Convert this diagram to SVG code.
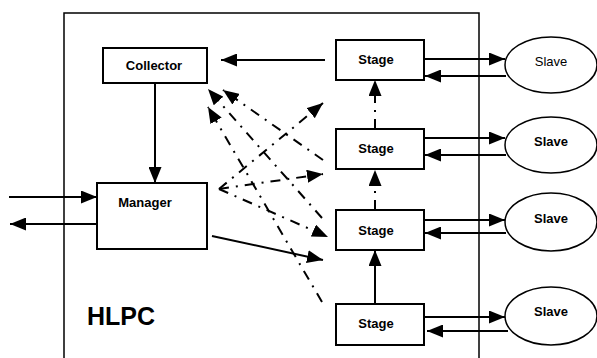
<svg xmlns="http://www.w3.org/2000/svg" width="597" height="358" viewBox="0 0 597 358">
<style>
.box{fill:#fff;stroke:#000;stroke-width:2}
.ell{fill:#fff;stroke:#000;stroke-width:1.5}
.t{font-family:"Liberation Sans",Arial,sans-serif;font-size:13px;font-weight:bold;text-anchor:middle;fill:#000}
.tn{font-weight:normal}
.s{stroke:#000;stroke-width:2;fill:none;marker-end:url(#ah)}
.d{stroke:#000;stroke-width:2;fill:none;stroke-dasharray:10 7 2 7;marker-end:url(#ah)}
</style>
<defs>
<marker id="ah" markerUnits="userSpaceOnUse" markerWidth="16" markerHeight="13" refX="16" refY="6.5" orient="auto">
<path d="M0,0 L16,6.5 L0,13 z" fill="#000"/>
</marker>
</defs>
<rect x="64" y="13" width="415" height="360" fill="none" stroke="#000" stroke-width="1.5"/>
<g id="collector"><rect class="box" x="103" y="48" width="104" height="35"/><text class="t" x="154" y="70">Collector</text></g>
<g id="manager"><rect class="box" x="97" y="183" width="110" height="66"/><text class="t" x="145" y="207">Manager</text></g>
<g id="stage1"><rect class="box" x="336" y="40" width="88" height="40"/><text class="t" x="376" y="64">Stage</text></g>
<g id="stage2"><rect class="box" x="336" y="129" width="88" height="40"/><text class="t" x="376" y="153">Stage</text></g>
<g id="stage3"><rect class="box" x="336" y="210" width="88" height="40"/><text class="t" x="376" y="235">Stage</text></g>
<g id="stage4"><rect class="box" x="336" y="304" width="88" height="41"/><text class="t" x="376" y="328">Stage</text></g>
<g id="slave1"><ellipse class="ell" cx="551" cy="65" rx="46" ry="28"/><text class="t tn" x="551" y="66">Slave</text></g>
<g id="slave2"><ellipse class="ell" cx="551" cy="145" rx="46" ry="28"/><text class="t" x="551" y="146">Slave</text></g>
<g id="slave3"><ellipse class="ell" cx="551" cy="222" rx="46" ry="29"/><text class="t" x="551" y="223">Slave</text></g>
<g id="slave4"><ellipse class="ell" cx="551" cy="316" rx="46" ry="29"/><text class="t" x="551" y="316">Slave</text></g>
<g id="hlpc-label"><text class="t" x="87" y="325" style="font-size:25px;text-anchor:start">HLPC</text></g>
<g id="connectors">
<line class="s" x1="325" y1="60" x2="221" y2="60"/>
<line class="s" x1="155" y1="83" x2="155" y2="183"/>
<line class="s" x1="9" y1="197" x2="97" y2="197"/>
<line class="s" x1="97" y1="224" x2="10" y2="224"/>
<line class="s" x1="212" y1="236" x2="323" y2="260"/>
<line class="s" x1="424" y1="59" x2="505" y2="59"/>
<line class="s" x1="506" y1="76" x2="425" y2="76"/>
<line class="s" x1="424" y1="138" x2="505" y2="138"/>
<line class="s" x1="506" y1="155" x2="425" y2="155"/>
<line class="s" x1="424" y1="220" x2="505" y2="220"/>
<line class="s" x1="506" y1="233" x2="425" y2="233"/>
<line class="s" x1="424" y1="317" x2="505" y2="317"/>
<line class="s" x1="508" y1="331" x2="427" y2="331"/>
<line class="d" x1="375" y1="129" x2="375" y2="80"/>
<line class="d" x1="375" y1="210" x2="375" y2="170"/>
<line class="s" x1="375" y1="304" x2="375" y2="250"/>
<line class="d" x1="323" y1="160" x2="223" y2="90"/>
<line class="d" x1="322" y1="218" x2="208" y2="89"/>
<line class="d" x1="322" y1="302" x2="208" y2="107"/>
<line class="d" x1="219" y1="189" x2="323" y2="103"/>
<line class="d" x1="219" y1="189" x2="323" y2="174"/>
<line class="d" x1="219" y1="189" x2="328" y2="237"/>
</g>
</svg>
